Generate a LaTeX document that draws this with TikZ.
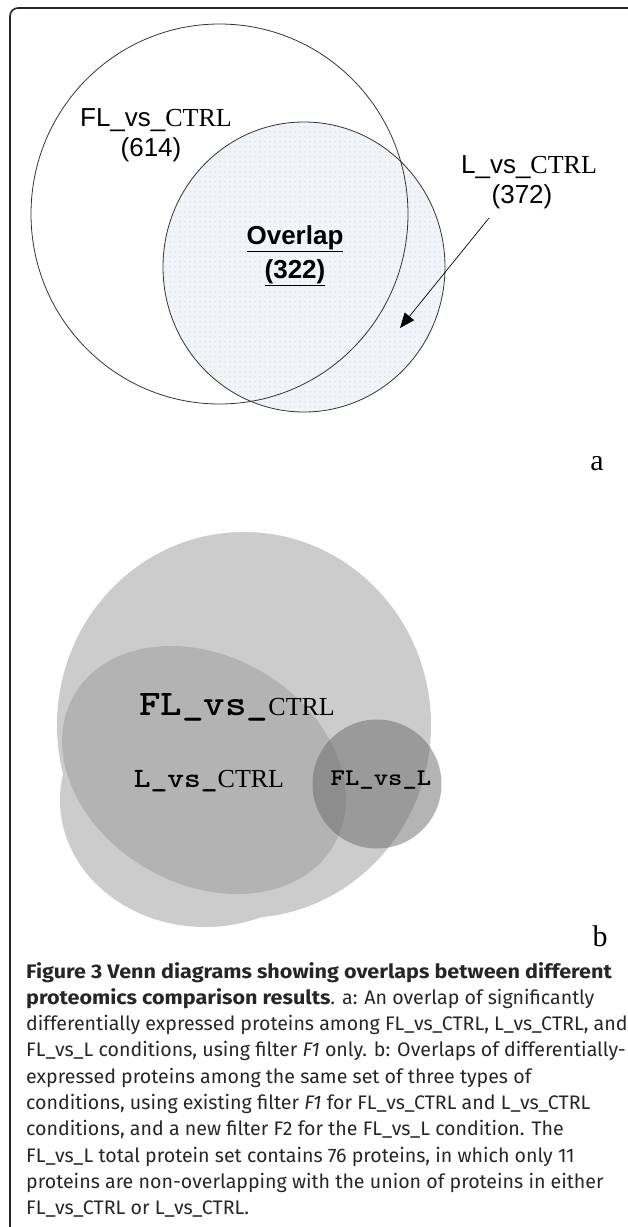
\documentclass[tikz,border=0pt]{standalone}
\usepackage{graphicx}
\usepackage{fontspec}
\setmainfont{Liberation Serif}
\newfontfamily\arialf{Liberation Sans}
\newfontfamily\capf{Fira Sans}
\usetikzlibrary{arrows.meta,patterns.meta}
\definecolor{bfill}{HTML}{F1F4F8}
\definecolor{lineg}{HTML}{333333}
\definecolor{capcol}{HTML}{262626}
\definecolor{lightg}{HTML}{CCCCCC}
\definecolor{medg}{HTML}{B3B3B3}
\newcommand{\courb}[2]{\scalebox{1.14}[1]{\ttfamily\bfseries\fontsize{#1}{#1}\selectfont #2}}
\newcommand{\capbold}[1]{\scalebox{1.1}[1]{\bfseries #1}}
\tikzset{
  vennline/.style={draw=lineg, line width=0.8pt},
  toplbl/.style={font=\arialf\fontsize{26}{30}\selectfont, inner sep=0pt},
  caplinestyle/.style={anchor=base west, inner sep=0pt, text=capcol, font=\capf\fontsize{19.6}{26}\selectfont},
  greyA/.style={fill=lightg},
  greyB/.style={fill=medg},
  greyC/.style={fill=black!60, fill opacity=0.49},
  panellbl/.style={font=\fontsize{30}{34}\selectfont, inner sep=0pt, anchor=base},
  blbl/.style={inner sep=0pt, anchor=base},
}
\begin{document}
\begin{tikzpicture}[x=1pt,y=-1pt]
\useasboundingbox (0,0) rectangle (627,1227);
% frame
\draw[line width=1.6pt, black!85, rounded corners=8pt] (630,8) -- (10,8) -- (10,1230);

% ---------- panel a ----------
\coordinate (cA) at (219.5,214);
\coordinate (cB) at (304,267);
\fill[bfill] (cB) ellipse [x radius=141pt, y radius=145pt];
\fill[pattern={Dots[distance=5pt,radius=0.5pt]}, pattern color=black!28] (cB) ellipse [x radius=141pt, y radius=145pt];
\draw[vennline] (cA) ellipse [x radius=188.5pt, y radius=190pt];
\draw[vennline] (cB) ellipse [x radius=141pt, y radius=145pt];

\node[toplbl] (flctrl) at (156,120) {FL\_vs\_{\rmfamily CTRL}};
\node[toplbl] (n614) at (151,150) {(614)};
\node[toplbl, font=\arialf\bfseries\fontsize{26}{30}\selectfont] (ovl) at (295,239) {\underline{Overlap}};
\node[toplbl, font=\arialf\bfseries\fontsize{26}{30}\selectfont] (n322) at (295,273) {\underline{(322)}};
\node[toplbl] (lctrl) at (529,167) {L\_vs\_{\rmfamily CTRL}};
\node[toplbl] (n372) at (522,197) {(372)};
\coordinate (arrS) at (489,218);
\coordinate (arrE) at (400,328);
\draw[line width=0.7pt, black, -{Triangle[length=15pt,width=12pt]}] (arrS) -- (arrE);

\node[panellbl] (pa) at (597,470) {a};

% ---------- panel b ----------
\coordinate (c1) at (244,725);
\coordinate (c1b) at (205,800);
\coordinate (c2) at (204,770);
\coordinate (c3) at (377,784);
\fill[greyA] (c1) ellipse [x radius=187pt, y radius=193pt];
\fill[greyA] (c1b) ellipse [x radius=145pt, y radius=127pt];
\fill[greyB, shift={(c2)}, rotate=-30] (0,0) ellipse [x radius=150pt, y radius=114pt];
\fill[greyC] (c3) circle [radius=64.5pt];

\node[blbl] (bfl) at (237,715) {\courb{36}{FL\_vs\_}{\fontsize{26}{30}\selectfont CTRL}};
\node[blbl] (bl) at (209,787) {\courb{28}{L\_vs\_}{\fontsize{26}{30}\selectfont CTRL}};
\node[blbl] (bflvsl) at (381,785) {\courb{24}{FL\_vs\_L}};

\node[panellbl] (pb) at (600,946) {b};

% ---------- caption ----------
\node[caplinestyle] (cap1) at (26,978) {\capbold{Figure 3 Venn diagrams showing overlaps between different}};
\node[caplinestyle] (cap2) at (26,1004.3) {\capbold{proteomics comparison results}. a: An overlap of significantly};
\node[caplinestyle] (cap3) at (26,1030.6) {differentially expressed proteins among FL\_vs\_CTRL, L\_vs\_CTRL, and};
\node[caplinestyle] (cap4) at (26,1056.9) {FL\_vs\_L conditions, using filter \textit{F1} only. b: Overlaps of differentially-};
\node[caplinestyle] (cap5) at (26,1083.2) {expressed proteins among the same set of three types of};
\node[caplinestyle] (cap6) at (26,1109.5) {conditions, using existing filter \textit{F1} for FL\_vs\_CTRL and L\_vs\_CTRL};
\node[caplinestyle] (cap7) at (26,1135.8) {conditions, and a new filter F2 for the FL\_vs\_L condition. The};
\node[caplinestyle] (cap8) at (26,1162.1) {FL\_vs\_L total protein set contains 76 proteins, in which only 11};
\node[caplinestyle] (cap9) at (26,1188.4) {proteins are non-overlapping with the union of proteins in either};
\node[caplinestyle] (cap10) at (26,1214.7) {FL\_vs\_CTRL or L\_vs\_CTRL.};
\end{tikzpicture}
\end{document}
